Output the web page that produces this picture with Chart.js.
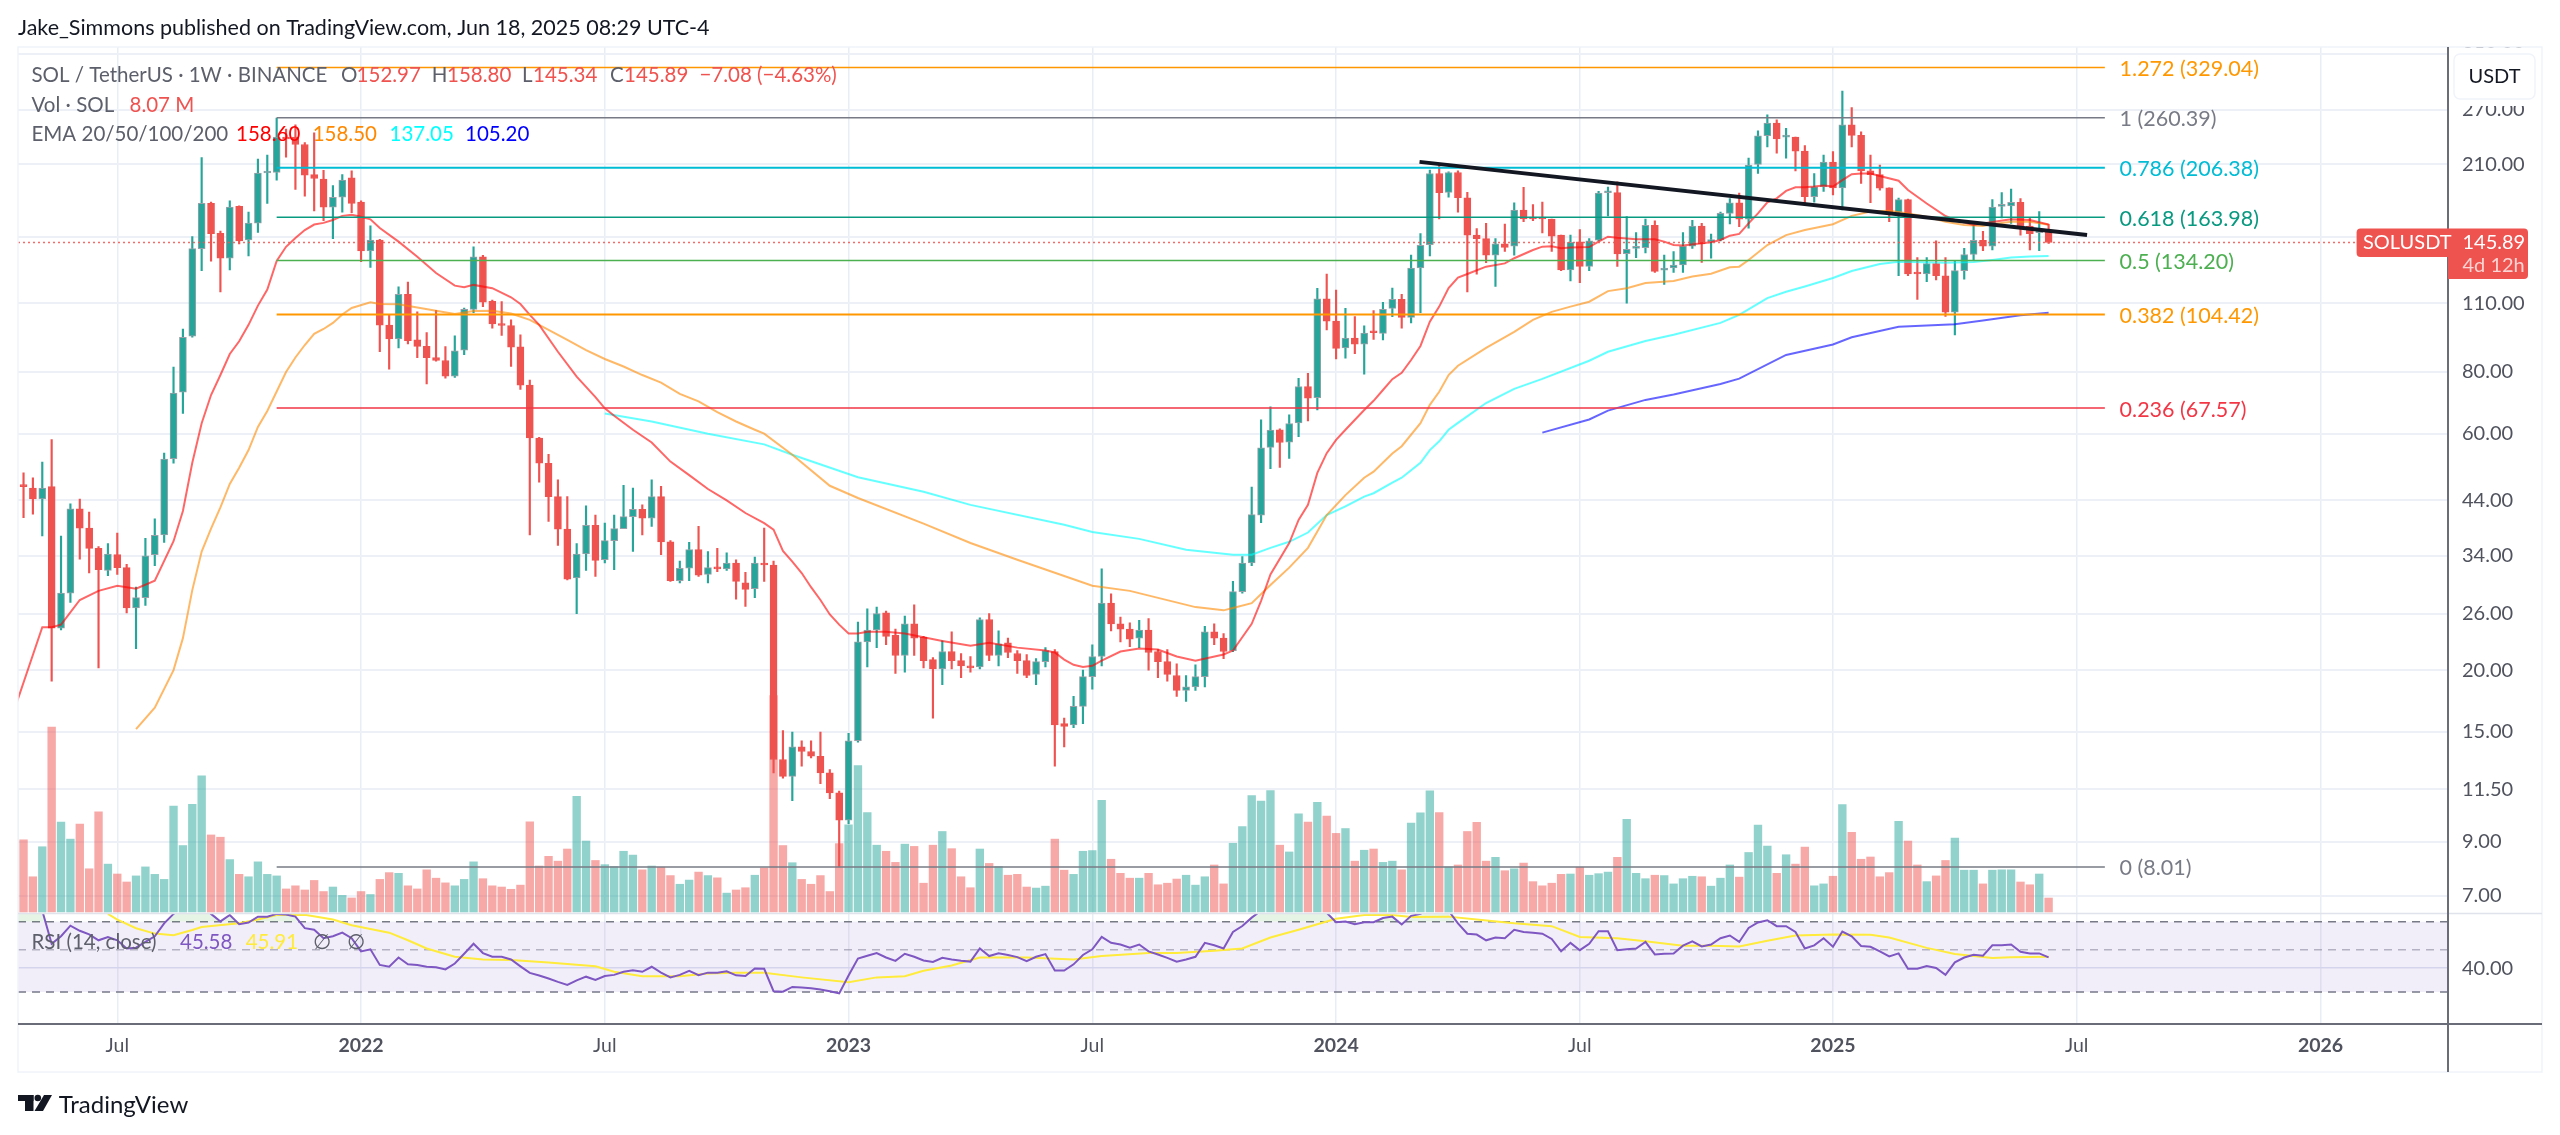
<!DOCTYPE html>
<html><head><meta charset="utf-8"><title>SOL / TetherUS 1W</title>
<style>html,body{margin:0;padding:0;background:#fff}canvas{display:block}</style>
<script src="https://cdn.jsdelivr.net/npm/chart.js@4/dist/chart.umd.js"></script>
</head><body><canvas id="c" width="2560" height="1135"></canvas>
<script>
// Weeks are counted from the bar of 3 Jan 2022 (week 0); first bar is week -37.
const firstWeek = -37;
const opens = [
32.5,47.3,46.6,44.3,46.9,24.3,28.6,42.3,38.7,35.2,
31.8,34.2,32.2,26.7,28,34.2,37.5,53.4,72.8,94.4,
141.8,175,152.3,135.6,172.5,147.7,159.6,201.5,202,238,
238,230,200,196,172,180,197,176,140.3,147.6,
99.4,93.2,114.6,92.8,90,85.5,84.3,78.4,88.5,106.9,
136.5,111,99.9,99.2,89.8,75.2,58.8,52.3,44.8,38.5,
30.7,34.3,39.2,33.4,36.5,38.6,40.8,42.2,40.5,44.8,
36.3,30.3,32.1,35,31.2,32.2,32,32.9,30,29.2,
32.9,32.6,13.2,12.2,14,13.7,13.4,12.4,11.3,9.96,
14.4,22.8,24.1,26.1,23.5,21.4,24.8,23.3,21,20.1,
21.8,20.9,20.4,20.3,25.3,21.4,22.7,21.6,20.9,19.6,
20.8,21.8,15.6,15.5,16.9,19.4,21.3,27.3,24.8,24.2,
23.2,24.1,21.8,20.8,19.5,18.2,18.5,19.4,23.9,23.2,
21.9,28.8,32.9,41.1,56.3,61.1,57.7,63.1,74.7,70.9,
112.3,101.3,89.4,93.6,91,96.3,95.6,107.4,112,103,
129.7,144.4,201,184.2,202,179.6,151,148.5,137.6,145,
143.4,169.7,164,164,162.7,151,128.4,146.4,130.6,147.4,
183.8,184,138.5,142,142.4,158,128.3,129.6,131.4,143.5,
157.5,146.5,147.6,167,175.5,162.6,209.8,239.6,254,238,
238,223,180.5,189,212,188,252,240,203.5,200,
188,168,178,126.5,126,132.2,125,105.5,128,138,
147.3,143.5,172.5,173,175.8,157.5,152.7,152.97];
const highs = [
46,50,48.9,52.6,58.4,37.3,43.3,44.3,41.7,35.5,
36,37.8,32.7,29.4,36.9,40.4,54.8,81.8,97.6,150,
216.6,176,153.8,177,173,168,215,219,260,247,
252,232,243,204,190,200,203.6,177,157.7,148,
104.2,118.7,121.4,105.7,96,106.4,89.9,94.5,107.5,143,
137.5,111.7,110.8,101.8,95,77,59,54.5,48.4,44.8,
36,42.9,41.1,39.6,41.1,47.2,46.6,43.1,48.4,47,
36.5,33.2,36.2,39,34.7,35.2,34.5,33.4,31.5,33.8,
38.7,33.2,15.1,15,14.4,14.4,15,12.6,11.4,14.9,
25,26.6,26.8,26.3,24.2,25.7,27.1,23.4,21.2,22.9,
23.9,21.6,21.3,25.5,26,24,23.2,21.9,21.5,21.1,
22.2,22,16,17.7,20,22.5,32,28.5,25.6,24.9,
25.2,25.4,22,22,20.6,19.5,20.5,24.5,24.8,23.7,
30.2,33.9,46.8,64,68,61.4,65.5,77.6,79.4,117.9,
126,117,107.4,103.4,99.1,106.3,110.5,118,114.7,137.6,
152,204.3,209,202.6,203.6,184.2,155.7,159.4,148.5,158.9,
175.5,188.5,174,176,162.7,151,151,155,148.6,185,
188.7,193.5,164.5,152.7,162.7,161.3,137.6,139.8,152.7,161.8,
159.4,151.7,168,179,183.5,216,245,264,258,248,
238,229,201,219,222.7,295,273,244,219,209,
188,179.4,178.5,136,136,147,136,134,142,157.7,
153.6,178,184,187,179,164,168.5,158.8];
const lows = [
30,40.6,41.3,37.3,19,24.1,27.4,33.5,31.4,20.2,
31,31.2,26.1,22.1,27,32.5,36.2,52.3,65.9,94,
128,133.7,116,128.4,145,137,152.8,175,195,217,
186.6,181,169,161.4,148.5,168,167.5,133.5,130,87.8,
81,89.4,91.1,85.4,75.6,84,77.7,77.9,86.6,105.3,
108.3,98,94.7,82,73.7,37.5,47.9,39.9,35.7,30.4,
26,31.8,30.9,32.9,31.9,38.7,34.7,37.5,39,34.2,
30.2,30,30.3,30.9,30,31.6,31.8,27.8,26.9,28,
30.2,12.4,12.1,10.9,12.8,13.3,11.8,11,8.01,9.8,
14.3,20.3,22.2,22.5,19.7,19.8,21.4,20.2,16,18.7,
20.1,19.3,19.8,20.1,20.9,20.4,21.2,19.7,19.3,18.7,
20.3,12.8,14,15.3,15.6,18.3,20.4,24,22.8,22.3,
22.2,20,19.3,19,17.7,17.3,18.2,18.5,22.5,21.1,
21.8,28.6,32.5,39.7,51,51.3,53.5,59.2,63.7,67,
97.2,84.9,85.2,87,79.1,93,92.8,103.4,98,100.4,
105.3,137,162.7,180,168,116,125.9,132.9,118.9,140,
137.6,160.7,161.5,152.5,140,128,122,121,128,147,
165,130.6,110,136,139,127,120,127,127,142,
133,135.6,147,159,157,156,201,227.5,221,216,
203.5,175,176,185,182,169.7,227.5,192,175.5,186,
160.7,125,125,112,121.6,122.6,103.5,95,123,134,
140.5,141,163.5,159.5,151,141,140.5,145.34];
const closes = [
44.1,46.9,44.3,46.6,24.3,28.6,42.3,38.7,35.2,31.9,
34.3,32.2,26.7,28,34,37.4,53.3,72.5,93.9,141.8,
175,152,135.6,172,147,159.6,201.4,202.5,238,236,
230,199.5,196.4,172,180,195,175,140.3,147.6,99.4,
93.2,114.6,92.4,90,85.4,84.3,78.4,88.2,106.9,136.5,
110.5,99.9,99.2,89.7,75.2,58.8,52.3,44.8,38.5,30.5,
34.3,39.2,33.3,36.5,38.6,40.8,42.2,40.5,44.8,36.3,
30.3,32.1,35,31.1,32.2,32,32.9,30.2,29.1,32.9,
32.6,13.2,12.2,14,13.7,13.4,12.4,11.3,9.96,14.4,
22.8,24.1,26,23.4,21.4,24.8,23.2,20.9,20.1,21.8,
20.9,20.4,20.2,25.3,21.4,22.6,21.7,20.9,19.5,20.8,
21.9,15.5,15.4,16.9,19.4,21.3,27.3,24.8,24.2,23.1,
24.1,21.7,20.8,19.6,18.2,18.5,19.4,23.9,23.2,21.8,
28.8,32.9,41.2,56.2,61,57.6,62.9,74.7,70.8,112.3,
101.2,89.2,93.6,91,95.8,95.9,107,112,103,129.6,
144,201,183.9,202,179.6,151,148.5,137.6,145,142.6,
169.7,162.7,162.7,162.7,150.3,128.4,146,130.6,147,183.6,
184.4,138.4,141.3,142.7,158,127.6,129.6,131.3,143.3,157.5,
145,147.6,167,175.5,162.6,209,239.6,254,236,240,
223,180.5,189,212,188,252,240,203.5,200,187.8,
168,178,126,126,132.2,125,105.5,128,138,147.3,
143.4,172,173.2,175.8,157.5,152,154,145.89];
const volumes = [ // millions of SOL
70,41.6,20.3,37.6,106.5,51.8,42,50.7,24.9,57.7,
27.6,21.9,17.3,20.8,26,21.7,18.8,61,38.3,62.1,
78.5,44.4,43.1,30.2,21.7,20.3,28.9,21.7,20.8,13.3,
15.1,12.7,18.2,11.8,14.4,9.6,8.1,11.8,10.1,18.8,
22.7,22.3,15.1,13.3,24.3,19.5,16.8,15.1,18.8,28.9,
19.2,15.1,14.4,13.1,15.5,52,26.5,32.1,29.3,36.3,
66.7,40.9,29.7,27.3,26.2,35,32.8,24.3,26.5,25.8,
21,16,18.4,23,21,19.7,10.9,12.7,14,21.2,
25.4,124.7,38.3,28.4,18.8,16,21,11.8,39.4,50.3,
84.4,57.3,38.5,35,28.6,39.1,37.8,16.6,38.5,46.4,
36.5,20.3,14,36.3,28,26.2,21.2,21.7,14.4,13.8,
14.9,42,24.1,21.7,35,35.4,64.3,30.4,22.3,19.5,
19.5,22.3,15.7,16.6,19,21.2,15.5,20.3,27.1,16.2,
39.6,49.2,67.1,63.9,70,38.5,34.6,56.6,51.8,63.2,
55.3,45.3,48.1,29.3,35.6,36.3,28.6,29.3,24.3,51.2,
57.1,69.8,57.3,26,27.1,46.4,51.6,29.3,31.5,23.8,
24.9,28.2,17.5,15.1,16.6,21.7,21.9,25.8,21.2,22.1,
23,31.5,53.4,22.3,19.2,21.2,21,16.2,19.2,20.6,
20.3,14.9,19.5,27.1,20.1,34.3,50.1,38,22.3,33,
27.6,37.4,15.1,16.2,20.6,61.9,45.9,30.4,31.7,20.3,
22.7,52.3,40.9,27.1,17.5,20.8,29.7,42.6,24.1,24.1,
16.2,24.1,24.3,24.3,17.3,15.7,21.9,8.07];
const rsiValues = [
85,84,82,80,53.7,58.8,66.8,62.8,60.1,56,
58.3,56,50.7,51.2,54.9,58.8,68.7,77,84,88,
86,77,70.3,76,68,69.4,74.5,74.5,77,76.5,
74.5,64.8,63.6,57.4,58.8,61.4,57.4,49,50.2,41.6,
40.7,45.5,41.9,41.6,40.7,40.5,39.4,42.3,47.6,53.7,
48,45.9,45.9,44.4,40.9,37.8,36.6,35.3,33.9,32.7,
34.5,36.1,34.7,36.4,36.9,38.3,39,38.3,40.7,37.9,
35.8,36.9,38.7,36.8,37.9,37.9,38.5,36.7,36.4,39.9,
39.7,30.3,30.1,31.9,31.7,31.4,30.9,30.3,29.5,36.6,
44.9,46.5,48,45.5,43.7,47.6,45.9,43.9,43.1,45.3,
44.4,43.7,43.3,50.7,46.3,47.9,46.9,45.7,43.5,45.9,
47.4,38.9,38.9,41.9,46.9,50.2,58.3,54.3,53.2,51.2,
53.2,49,47.2,45.3,43.3,44.4,45.9,54.3,52.7,50.7,
61.9,66.5,73.6,80,84,82,84,88,86,88,
78,69.7,70.3,68,69.7,69.7,73.3,74.5,67.8,75.2,
77,82,84,80,68.7,60.6,60,56,57.9,57.4,
63.6,61.9,61.4,60.6,56.9,49,54.3,49.7,53.7,62.5,
62.5,49.7,50.2,50.7,54.9,47.2,47.6,47.8,52.5,55.3,
52,53.2,57.4,59.3,54.9,65,69.4,71.3,66.4,66.4,
61.9,50.7,52.7,57.4,51.8,62.2,58.8,52.3,51.8,49,
46.1,47.8,39.7,39.7,41.1,40.1,36.9,42.9,45.5,47,
46.5,52.7,52.7,53.2,48.8,47.8,47.8,45.58];
const rsiMaWeeks = [-27,-26,-24,-22,-20,-18,-17,-13,-11,-9,-6,-3,-1,3,5,7,10,13,16,20,25,27,30,34,37,40,43,47,52,55,58,60,63,66,71,76,79,84,87,91,94,97,100,104,107,110,112,116,119,123,127,130,134,137,141,144,147,150,153,157,161,163,167,170,174,176,180];
const rsiMaValues = [77,71.9,64.8,60.7,59.5,63.4,65.7,68.7,71.9,75.9,76.2,71.9,67.1,61.4,56,50.7,45.9,44.4,44.2,42.9,40.9,38.3,36.3,36.3,37.5,37.8,37.8,35.8,33.8,35.8,36.3,38.8,41.3,45.5,45.5,44.4,46.3,48,48,49.4,50.7,57.9,63.6,72.6,75.9,75.9,74.2,74.5,71.9,68.7,66.4,58.3,57.4,55.4,52.5,52.5,52,55.7,59.3,60.1,59.8,57.9,51.1,47.5,45.2,45.6,45.91];
const ema20Weeks = [-37,-34,-33,-32,-30,-28,-26,-24,-22,-20,-19,-18,-17,-16,-15,-14,-13,-12,-11,-10,-9,-8,-7,-6,-5,-4,-3,-2,-1,0,1,2,4,6,8,10,11,12,14,16,17,18,19,21,23,25,26,27,29,31,33,35,37,39,41,43,44,45,46,47,48,49,50,51,52,53,54,56,58,60,62,65,67,70,73,74,75,76,77,78,79,81,83,85,87,89,92,93,95,96,97,99,100,101,102,103,104,105,107,108,109,110,111,112,113,114,115,116,117,118,120,122,123,125,126,127,128,129,131,132,133,134,136,138,139,140,141,143,144,145,146,147,148,149,150,151,152,153,154,155,156,157,158,159,160,161,162,164,165,167,169,170,172,174,176,178,180];
const ema20Values = [16.6,24.4,24.4,24.7,27.7,28.9,29.6,29.2,30.3,36.4,41.9,52.4,63,71.8,78.8,86.9,92.2,99.5,108.8,117.2,133.9,143,149,154.6,158.6,159.8,162,165.1,166,164.4,162.5,156,146.5,136.6,126.6,119.4,118.5,119.8,118,113.1,109.6,104.2,99.5,87.8,78.2,71.1,67.5,65.2,61.1,57.6,52.7,49.5,46.4,44,41.5,39.6,38.4,34.8,33.1,31.4,29.4,27.7,25.9,24.7,23.7,23.7,23.9,23.9,23.7,23.3,22.9,22.4,22.7,22.2,21.9,21.7,21,20.5,20.3,20.4,20.9,21.8,22.1,22,21.3,20.9,21.5,21.9,24.8,27.6,31.2,36.1,40.2,43.1,50,54.8,58.3,61.1,67,69.9,73.5,77.3,79.6,84.5,90.2,101,108.3,118,123.9,126,130.4,132.4,135.6,140.9,143.1,143.4,142,142.5,142.8,146.5,149.9,149.2,148.1,148.1,146.5,144.2,143.8,145.4,146,147.6,150.6,151.8,159.5,167,175.8,179.1,185.4,188.6,188.6,189.2,190.1,189.2,195,200.4,201.1,201.1,198.8,194.4,186.2,174.9,165,162,158.3,160.5,162.5,162,158.6];
const ema50Weeks = [-24,-22,-20,-19,-18,-17,-16,-15,-14,-13,-12,-11,-10,-9,-8,-7,-6,-5,-4,-3,-2,-1,1,2,4,6,8,10,12,14,16,18,20,22,24,26,28,30,32,34,36,38,40,42,43,46,50,53,60,65,70,72,78,82,89,92,93,95,97,99,101,102,103,105,107,108,110,111,113,114,115,116,117,120,123,125,127,129,131,133,135,137,140,142,144,146,147,148,150,152,154,157,159,161,163,165,167,169,171,173,174,176,178,180];
const ema50Values = [15.2,16.8,20,23.2,29,34.7,38.6,42.6,47.5,51.2,55.6,61.9,66.7,73,79.9,85.5,90.6,95.4,97.6,100.4,104.4,107.6,110.5,109.6,109.5,107.8,106.2,104.6,106.1,106.2,104.9,101.8,97.2,92.8,88.5,84.9,82,78.8,76.1,72.2,69.7,66.3,63.5,61.1,60,54.4,47.1,44.5,39.5,36.1,33.4,32.4,29.6,28.9,26.8,26.4,26.7,27.3,29.7,32.2,35.3,38.1,41.1,45.1,48.9,50.3,54.7,56.6,63,68.6,72.9,78.8,82.3,89.4,96.3,101.8,105.7,108.3,110.8,116.4,118,120.8,122,124.6,126.2,130,130.4,134.5,144.2,151,154.6,158.8,165.1,168.4,169,167,164.4,160.7,158.3,157.5,158.8,160.7,160.7,158.5];
const ema100Weeks = [26,31,37,43,46,53,60,65,75,78,83,88,93,95,97,99,101,103,105,107,108,110,111,113,114,115,116,117,120,123,126,131,133,137,140,145,147,150,152,154,157,159,162,164,169,172,174,176,178,180];
const ema100Values = [65.9,63.5,60,57.1,54.4,49,45.8,43.1,39.3,38,36.8,35,34.2,34.2,35.3,36.3,37.9,41.1,42.8,44.8,45.5,47.8,48.9,52.4,55.6,57.9,61.1,63.1,69.2,73.9,77.4,84.2,87.8,92.3,95,100.4,104.2,112.7,116,118.9,123.7,127.8,132,133.4,132.8,133.2,134.5,136,136.7,137.05];
const ema200Weeks = [126,131,133,137,140,145,147,152,157,159,164,170,173,177,180];
const ema200Values = [60.3,64.1,66.8,70.2,72,75.6,77.5,86.5,90.8,93.9,98.6,99.8,101.5,104,105.2];
const fibRatios = ['1.272','1','0.786','0.618','0.5','0.382','0.236','0'];
const fibPrices = [329.04,260.39,206.38,163.98,134.20,104.42,67.57,8.01];
const fibColors = ['#ff9800','#787b86','#00bcd4','#089981','#4caf50','#ff9800','#f23645','#787b86'];
const fibWidths = [1.5,1.5,2,1.5,1.5,2,1.5,1.5];
const fibStartWeek = -9, fibEndWeek = 186;
const trendWeeks = [112.9,184.1];
const trendPrices = [212.2,151];
const lastPrice = 145.89;
const priceTicks = [350,270,210,150,110,80,60,44,34,26,20,15,11.5,9,7];
const rsiTicks = [40];
const rsiLevels = [70,50,30];
const timeTickWeeks = [-26,0,26,52,78,104,130,157,183,209];
const timeTickLabels = ['Jul','2022','Jul','2023','Jul','2024','Jul','2025','Jul','2026'];

const UP='#26a69a', DOWN='#ef5350', FONT='Lato, "Noto Sans", sans-serif';
const weeks = opens.map((_,i)=>firstWeek+i);
const isUp = opens.map((o,i)=>closes[i]>=o);
const pairs=(xs,ys)=>xs.map((x,i)=>({x,y:ys[i]}));
const xMin=-36.59, xMax=222.6;
const priceMax=361.9, priceMin=6.456, rsiMax=77.46, rsiMin=20.4;
const flat=(v,a=xMin,b=xMax)=>[{x:a,y:v},{x:b,y:v}];
const line=(label,data,color,yAxisID,order,extra={})=>Object.assign({type:'line',label,data,borderColor:color,borderWidth:2,pointRadius:0,tension:0,fill:false,yAxisID,order},extra);

const datasets=[
 {type:'bar',label:'Volume',data:weeks.map((x,i)=>({x,y:volumes[i]})),yAxisID:'vol',grouped:false,barThickness:7.7,
  backgroundColor:isUp.map(u=>u?'rgba(38,166,154,0.5)':'rgba(239,83,80,0.5)'),order:20},
 {type:'bar',label:'Wicks',data:weeks.map((x,i)=>({x,y:[lows[i],highs[i]]})),yAxisID:'y',grouped:false,barThickness:1.5,
  backgroundColor:isUp.map(u=>u?UP:DOWN),order:19},
 {type:'bar',label:'SOLUSDT',data:weeks.map((x,i)=>({x,y:[opens[i],closes[i]]})),yAxisID:'y',grouped:false,barThickness:7,minBarLength:2,
  backgroundColor:isUp.map(u=>u?UP:DOWN),borderColor:isUp.map(u=>u?'#9aa0a8':DOWN),borderWidth:1,borderSkipped:false,order:18},
 line('EMA 20',pairs(ema20Weeks,ema20Values),'rgba(255,0,0,0.6)','y',10),
 line('EMA 50',pairs(ema50Weeks,ema50Values),'rgba(255,136,0,0.6)','y',10),
 line('EMA 100',pairs(ema100Weeks,ema100Values),'rgba(0,255,255,0.6)','y',10),
 line('EMA 200',pairs(ema200Weeks,ema200Values),'rgba(0,0,255,0.6)','y',10),
 ...fibPrices.map((p,i)=>line('Fib '+fibRatios[i],flat(p,fibStartWeek,fibEndWeek),fibColors[i],'y',9,{borderWidth:fibWidths[i]})),
 line('Last price',flat(lastPrice),'rgba(239,83,80,0.85)','y',8,{borderDash:[2,3],borderWidth:1.5}),
 line('Trend line',pairs(trendWeeks,trendPrices),'#131722','y',1,{borderWidth:4}),
 line('RSI 70',flat(rsiLevels[0]),'#787b86','rsi',15,{borderDash:[8,6],borderWidth:1.5,fill:{target:'+1'},backgroundColor:'rgba(126,87,194,0.1)'}),
 line('RSI 30',flat(rsiLevels[2]),'#787b86','rsi',15,{borderDash:[8,6],borderWidth:1.5}),
 line('RSI 50',flat(rsiLevels[1]),'rgba(120,123,134,0.5)','rsi',15,{borderDash:[8,6],borderWidth:1.5}),
 line('RSI overbought',weeks.map((x,i)=>({x,y:Math.min(rsiValues[i],rsiMax)})),'rgba(0,0,0,0)','rsi',14,{borderWidth:0,fill:{target:{value:70},above:'rgba(76,175,80,0.14)',below:'rgba(0,0,0,0)'}}),
 line('RSI MA',pairs(rsiMaWeeks,rsiMaValues),'#ffeb3b','rsi',13),
 line('RSI',weeks.map((x,i)=>({x,y:rsiValues[i]})),'#7e57c2','rsi',12),
];

const T=(ctx,s,x,y,font,color,align='left',maxW)=>{ctx.font=font;ctx.fillStyle=color;ctx.textAlign=align;ctx.textBaseline='middle';maxW?ctx.fillText(s,x,y,maxW):ctx.fillText(s,x,y);};
const overlay={id:'overlay',afterDraw(chart){
  const c=chart.ctx,a=chart.chartArea,yS=chart.scales.y,RED='#ef5350',G='#5d606b';
  c.save();
  // frame
  c.strokeStyle='#f0f3fa';c.lineWidth=1.5;c.strokeRect(18,47,2524,1025);
  c.strokeStyle='#e0e3eb';c.lineWidth=1.5;c.beginPath();c.moveTo(18,yS.bottom);c.lineTo(2542,yS.bottom);c.stroke();
  c.strokeStyle='#6a6d78';c.lineWidth=2;c.beginPath();c.moveTo(18,a.bottom);c.lineTo(2542,a.bottom);c.moveTo(a.right,47);c.lineTo(a.right,1072);c.stroke();
  // header
  T(c,'Jake_Simmons published on TradingView.com, Jun 18, 2025 08:29 UTC-4',18,28,'21.5px '+FONT,'#131722');
  // legend
  const f='20.5px '+FONT;
  T(c,'SOL / TetherUS · 1W · BINANCE',31.5,75,f,G);
  T(c,'O',341,75,f,G);T(c,'152.97',356.6,75,f,RED);
  T(c,'H',431.7,75,f,G);T(c,'158.80',447,75,f,RED);
  T(c,'L',522,75,f,G);T(c,'145.34',533,75,f,RED);
  T(c,'C',610,75,f,G);T(c,'145.89',624,75,f,RED);
  T(c,'−7.08 (−4.63%)',699.4,75,f,RED);
  T(c,'Vol · SOL',31.5,105,f,G);T(c,'8.07 M',129.5,105,f,RED);
  T(c,'EMA 20/50/100/200',31.5,134,f,G);
  T(c,'158.60',236,134,f,'#ff0000');T(c,'158.50',312.7,134,f,'#ff8800');T(c,'137.05',389.5,134,f,'#00ffff');T(c,'105.20',465,134,f,'#0000ff');
  T(c,'RSI (14, close)',31.5,942,f,G);T(c,'45.58',180,942,f,'#7e57c2');T(c,'45.91',245.7,942,f,'#ffeb3b');
  T(c,'∅',312.7,942,f,G);T(c,'∅',346.7,942,f,G);
  // fib labels
  fibPrices.forEach((p,i)=>T(c,fibRatios[i]+' ('+p.toFixed(2)+')',2119.6,yS.getPixelForValue(p)+1.5,'21.5px '+FONT,fibColors[i]));
  // price tag
  const ty=yS.getPixelForValue(lastPrice);
  c.fillStyle=RED;
  c.beginPath();c.roundRect(2356.6,ty-14,92,28.5,[4,0,0,4]);c.fill();
  c.beginPath();c.roundRect(2448,ty-14,80,50.5,[0,4,4,0]);c.fill();
  T(c,'SOLUSDT',2363,ty+0.5,'20px '+FONT,'#ffffff');
  T(c,lastPrice.toFixed(2),2462.5,ty+0.5,'20px '+FONT,'#ffffff');
  T(c,'4d 12h',2462.5,ty+23,'20px '+FONT,'rgba(255,255,255,0.75)');
  // currency button
  c.fillStyle='#fff';c.fillRect(2450,48,90,58);
  c.strokeStyle='#f0f3fa';c.lineWidth=1.5;c.beginPath();c.roundRect(2454,54,81,45,6);c.fill();c.stroke();
  T(c,'USDT',2494.5,76.5,'20px '+FONT,'#131722','center');
  // logo
  c.fillStyle='#131722';
  c.fillRect(18,1095,15.5,6);c.fillRect(25,1095,8.5,16);
  c.beginPath();c.arc(37.8,1098,3.3,0,Math.PI*2);c.fill();
  c.beginPath();c.moveTo(44,1095);c.lineTo(52,1095);c.lineTo(43,1111);c.lineTo(34.5,1111);c.closePath();c.fill();
  T(c,'TradingView',58.7,1105,'24px '+FONT,'#131722');
  c.restore();
}};

new Chart(document.getElementById('c'),{
 data:{datasets},
 plugins:[overlay],
 options:{responsive:false,animation:false,devicePixelRatio:1,
  layout:{padding:{left:18,top:47,right:0,bottom:63}},
  plugins:{legend:{display:false},tooltip:{enabled:false},title:{display:false}},
  scales:{
   x:{type:'linear',min:xMin,max:xMax,position:'bottom',offset:false,
     grid:{color:'#e8eef5',lineWidth:1.5,drawTicks:false,offset:false},border:{display:false},
     afterFit:s=>{s.height=48;},
     afterBuildTicks:s=>{s.ticks=timeTickWeeks.map(value=>({value}));},
     ticks:{autoSkip:false,maxRotation:0,padding:10,color:'#50535e',
       callback:v=>timeTickLabels[timeTickWeeks.indexOf(v)],
       font:ctx=>({family:FONT,size:19.5,weight:/^\d/.test(timeTickLabels[timeTickWeeks.indexOf(ctx.tick&&ctx.tick.value)]||'')?'bold':'normal'})}},
   y:{type:'logarithmic',position:'right',min:priceMin,max:priceMax,stack:'panes',stackWeight:866.4,weight:1,
     grid:{color:'#edf1f7',lineWidth:2,drawTicks:false},border:{display:false},
     afterFit:s=>{s.width=112;},
     afterBuildTicks:s=>{s.ticks=priceTicks.map(value=>({value}));},
     ticks:{autoSkip:false,padding:14,color:'#50535e',font:{family:FONT,size:20},callback:v=>Number(v).toFixed(2)}},
   rsi:{type:'logarithmic',position:'right',min:rsiMin,max:rsiMax,stack:'panes',stackWeight:110.6,weight:2,
     grid:{color:'#dfe3f2',lineWidth:1.5,drawTicks:false},border:{display:false},
     afterFit:s=>{s.width=112;},
     afterBuildTicks:s=>{s.ticks=rsiTicks.map(value=>({value}));},
     ticks:{autoSkip:false,padding:14,color:'#50535e',font:{family:FONT,size:20},callback:v=>Number(v).toFixed(2)}},
   vol:{type:'linear',position:'left',display:false,min:-64.5,max:498.3}
  }
 }
});
</script></body></html>
